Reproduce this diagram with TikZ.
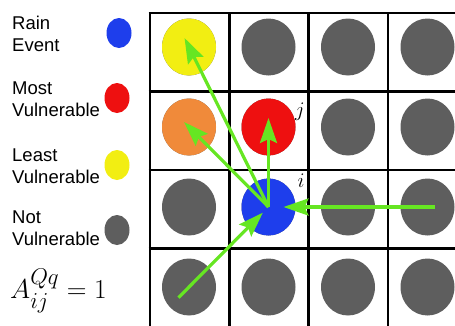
\documentclass[tikz,border=0pt]{standalone}
\usepackage{amsmath,amssymb}
\usepackage{fontspec}
\setmainfont{Liberation Sans}
\usetikzlibrary{arrows.meta,shapes.geometric}
\definecolor{rainblue}{HTML}{1E3EEC}
\definecolor{mostred}{HTML}{EE1010}
\definecolor{leastyel}{HTML}{F2EE12}
\definecolor{midorange}{HTML}{F08A3A}
\definecolor{notgray}{HTML}{5E5E5E}
\definecolor{flowgreen}{HTML}{66E622}

\begin{document}
\begin{tikzpicture}[x=1pt,y=-1pt,
  g/.style={ellipse,fill=notgray,minimum width=54pt,minimum height=57pt,inner sep=0pt},
  k/.style={ellipse,fill=notgray,minimum width=25pt,minimum height=30pt,inner sep=0pt},
  grid/.style={black,line width=2.6pt},
  flow/.style={flowgreen,line width=3.2pt,-{Stealth[length=25pt,width=17pt,inset=4pt]}},
  txt/.style={anchor=west,align=left,inner sep=0pt,font=\fontsize{18.5}{21.5}\selectfont},
  lab/.style={inner sep=0pt,font=\fontsize{21}{24}\selectfont}]
  \useasboundingbox (0,0) rectangle (455,325);
  \clip (0,0) rectangle (455,325);
  % legend: four classes of cell, then the adjacency entry
  \node[txt] (train) at (12,34) {Rain\\Event};
  \node[txt] (tmost) at (12,99) {Most\\Vulnerable};
  \node[txt] (tleast) at (12,166) {Least\\Vulnerable};
  \node[txt] (tnot) at (12,228) {Not\\Vulnerable};
  \node[k,fill=rainblue] (krain) at (119,33) {};
  \node[k,fill=mostred] (kmost) at (117,98) {};
  \node[k,fill=leastyel] (kleast) at (117,165) {};
  \node[k] (knot) at (117,230) {};
  \node[lab,anchor=west,font=\Huge,scale=1.1] (adj) at (10,291) {$A_{ij}^{Qq}=1$};
  % the 4x4 grid of cells, cut off at the right and bottom edge
  \foreach \k in {0,...,3} \draw[grid] (150+79.3*\k,13) -- (150+79.3*\k,330);
  \foreach \k in {0,...,3} \draw[grid] (148.7,13+78.4*\k) -- (460,13+78.4*\k);
  % one disc per cell; c<row><col>
  \foreach \r in {1,...,4} \foreach \c in {1,...,4} \coordinate (p\r\c) at (189+79.5*\c-79.5,47+80*\r-80);
  \foreach \r in {1,...,4} \foreach \c in {1,...,4} \node[g] (c\r\c) at (p\r\c) {};
  \node[g,fill=leastyel] (c11) at (p11) {};
  \node[g,fill=midorange] (c21) at (p21) {};
  \node[g,fill=mostred] (c22) at (p22) {};
  \node[g,fill=rainblue] (c32) at (p32) {};
  \node[lab] (lj) at (300,112) {$j$};
  \node[lab] (li) at (301,181) {$i$};
  % flows out of the rain cell i and into it
  \draw[flow,shorten >=-10pt] (c32.center) -- (c11.center);
  \draw[flow,shorten >=-7pt] (c32.center) -- (c21.center);
  \draw[flow,shorten >=-9pt] (c32.center) -- (c22.center);
  \draw[flow,shorten <=-7pt,shorten >=15pt] (c34.center) -- (c32.center);
  \draw[flow,shorten <=-15pt,shorten >=8pt] (c41.center) -- (c32.center);
\end{tikzpicture}
\end{document}
